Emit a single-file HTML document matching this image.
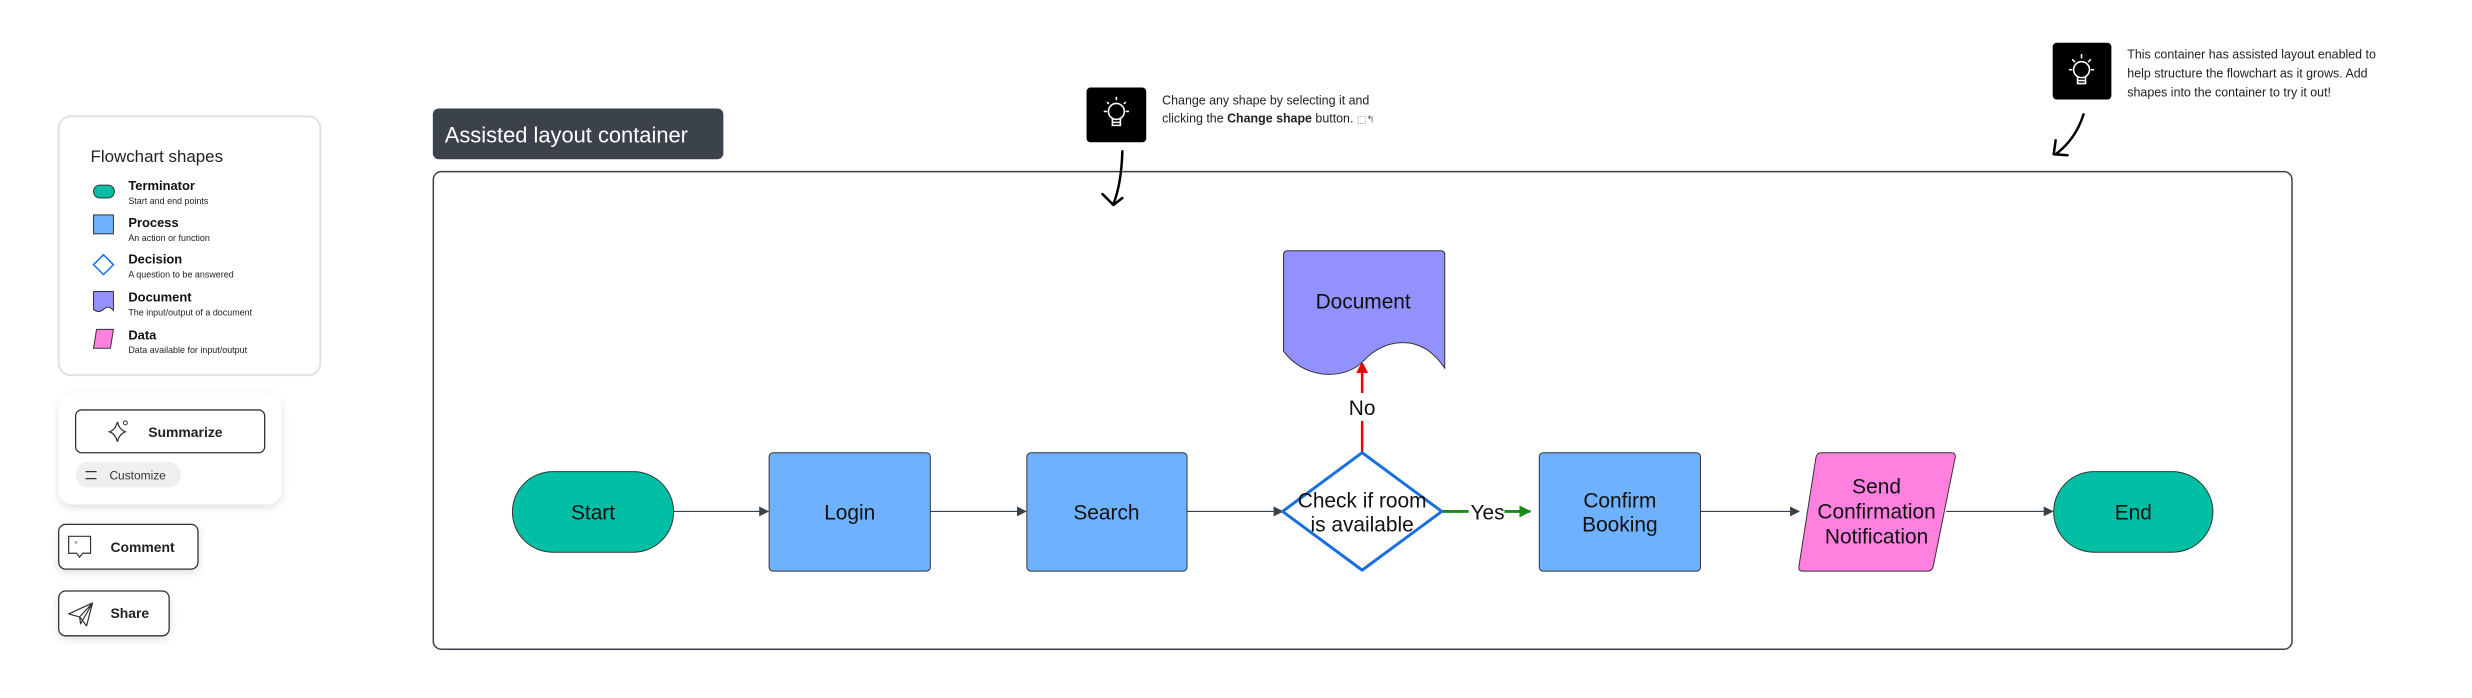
<!DOCTYPE html>
<html><head><meta charset="utf-8"><style>
html,body{margin:0;padding:0;background:#fff;}
body{width:2472px;height:693px;overflow:hidden;position:relative;font-family:"Liberation Sans",sans-serif;}
</style></head><body>
<svg width="2472" height="693" viewBox="0 0 2472 693" xmlns="http://www.w3.org/2000/svg" font-family="Liberation Sans, sans-serif">
<defs>
<filter id="sh" x="-10%" y="-10%" width="120%" height="130%"><feDropShadow dx="0" dy="3" stdDeviation="4" flood-color="#000" flood-opacity="0.12"/></filter>
<marker id="ag" markerWidth="10" markerHeight="10" refX="9" refY="5" orient="auto" markerUnits="userSpaceOnUse"><path d="M0,0 L10,5 L0,10z" fill="#3a414a"/></marker>
<marker id="ar" markerWidth="10" markerHeight="12" refX="9" refY="6" orient="auto" markerUnits="userSpaceOnUse"><path d="M0,0 L12,6 L0,12z" fill="#e00"/></marker>
<marker id="agr" markerWidth="12" markerHeight="12" refX="11" refY="6" orient="auto" markerUnits="userSpaceOnUse"><path d="M0,0 L12,6 L0,12z" fill="#1a8a1a"/></marker>
</defs>
<g transform="scale(0.995)">
<!-- Legend card -->
<rect x="59" y="117" width="263" height="260" rx="12" fill="#fff" stroke="#dfe2e6" stroke-width="2"/>
<text x="91" y="163" font-size="17" fill="#222">Flowchart shapes</text>
<rect x="94" y="186" width="21" height="13" rx="6.5" fill="#00bfa5" stroke="#333" stroke-width="1"/>
<text x="129" y="191" font-size="13" font-weight="bold" fill="#111">Terminator</text>
<text x="129" y="205" font-size="9" fill="#222">Start and end points</text>
<rect x="94" y="216" width="20" height="19" fill="#6db1ff" stroke="#333" stroke-width="1"/>
<text x="129" y="228" font-size="13" font-weight="bold" fill="#111">Process</text>
<text x="129" y="242" font-size="9" fill="#222">An action or function</text>
<path d="M104,256 L114,266 L104,276 L94,266z" fill="#fff" stroke="#1a6fe0" stroke-width="1.5"/>
<text x="129" y="265" font-size="13" font-weight="bold" fill="#111">Decision</text>
<text x="129" y="279" font-size="9" fill="#222">A question to be answered</text>
<path d="M94,293 H114 V312 Q109,306 104,311 Q99,315 94,311z" fill="#9391fd" stroke="#333" stroke-width="1"/>
<text x="129" y="303" font-size="13" font-weight="bold" fill="#111">Document</text>
<text x="129" y="317" font-size="9" fill="#222">The input/output of a document</text>
<path d="M97,331 H114 L111,350 H94z" fill="#ff80de" stroke="#333" stroke-width="1"/>
<text x="129" y="341" font-size="13" font-weight="bold" fill="#111">Data</text>
<text x="129" y="355" font-size="9" fill="#222">Data available for input/output</text>

<!-- Summarize card -->
<rect x="59" y="395" width="224" height="112" rx="14" fill="#fff" filter="url(#sh)"/>
<rect x="76" y="412" width="190" height="43" rx="6" fill="#fff" stroke="#333" stroke-width="1.3"/>
<path d="M118,424 Q120,432 126,434 Q120,436 118,444 Q116,436 110,434 Q116,432 118,424z" fill="none" stroke="#333" stroke-width="1.2"/>
<circle cx="126" cy="425" r="2" fill="none" stroke="#333" stroke-width="1"/>
<text x="149" y="439" font-size="14" font-weight="bold" fill="#222">Summarize</text>
<rect x="76" y="464" width="106" height="26" rx="13" fill="#eeeff1"/>
<path d="M86,474 H97 M86,481 H97" stroke="#333" stroke-width="1.2"/>
<text x="110" y="482" font-size="12" fill="#333">Customize</text>

<!-- Comment -->
<rect x="59" y="527" width="140" height="45" rx="7" fill="#fff" stroke="#333" stroke-width="1.3" filter="url(#sh)"/>
<path d="M69,539 H91 V556 H83 L80,560 L77,556 H69z" fill="none" stroke="#333" stroke-width="1.2"/>
<text x="75" y="551" font-size="9" fill="#333">”</text>
<text x="111" y="555" font-size="14" font-weight="bold" fill="#222">Comment</text>

<!-- Share -->
<rect x="59" y="594" width="111" height="45" rx="7" fill="#fff" stroke="#333" stroke-width="1.3" filter="url(#sh)"/>
<path d="M69,617 L93,606 L87,629 L80,620z M80,620 L93,606 L81,627z" fill="none" stroke="#333" stroke-width="1.2" stroke-linejoin="round"/>
<text x="111" y="621" font-size="14" font-weight="bold" fill="#222">Share</text>

<!-- Title -->
<rect x="435" y="109" width="292" height="51" rx="6" fill="#3c424b"/>
<text x="447" y="143" font-size="22" fill="#fff">Assisted layout container</text>

<!-- Container -->
<rect x="435.5" y="172.5" width="1868" height="480" rx="8" fill="#fff" stroke="#3a414a" stroke-width="1.5"/>

<!-- Tip 1 -->
<rect x="1092" y="88" width="60" height="55" rx="4" fill="#000"/>
<g stroke="#fff" stroke-width="1.6" fill="none" stroke-linecap="round">
<circle cx="1122" cy="112" r="8"/><path d="M1118,119 V126 H1126 V119 M1118,123 H1126"/>
<path d="M1122,98 V100 M1110,112 H1112 M1132,112 H1134 M1113,103 L1114,104 M1131,103 L1130,104"/>
</g>
<text x="1168" y="105" font-size="12.5" fill="#222">Change any shape by selecting it and</text>
<text x="1168" y="123" font-size="12.5" fill="#222">clicking the <tspan font-weight="bold">Change shape</tspan> button. <tspan font-size="10" fill="#666">⬚↰</tspan></text>
<path d="M1128,152 Q1127,185 1119,205 M1108,195 L1119,206 L1128,199" stroke="#000" stroke-width="2.5" fill="none" stroke-linecap="round" stroke-linejoin="round"/>

<!-- Tip 2 -->
<rect x="2063" y="43" width="59" height="57" rx="4" fill="#000"/>
<g stroke="#fff" stroke-width="1.6" fill="none" stroke-linecap="round">
<circle cx="2092" cy="70" r="8"/><path d="M2088,77 V84 H2096 V77 M2088,81 H2096"/>
<path d="M2092,55 V58 M2080,70 H2082 M2102,70 H2104 M2083,60 L2085,62 M2101,60 L2099,62"/>
</g>
<text x="2138" y="59" font-size="12.5" fill="#222">This container has assisted layout enabled to</text>
<text x="2138" y="78" font-size="12.5" fill="#222">help structure the flowchart as it grows. Add</text>
<text x="2138" y="97" font-size="12.5" fill="#222">shapes into the container to try it out!</text>
<path d="M2094,115 Q2086,140 2066,155 M2066,141 L2064,155 L2078,156" stroke="#000" stroke-width="2.5" fill="none" stroke-linecap="round" stroke-linejoin="round"/>

<!-- Connectors -->
<g stroke="#3a414a" stroke-width="1.2" fill="none">
<path d="M677,514 H772" marker-end="url(#ag)"/>
<path d="M935,514 H1031" marker-end="url(#ag)"/>
<path d="M1193,514 H1289" marker-end="url(#ag)"/>
<path d="M1709,514 H1808" marker-end="url(#ag)"/>
<path d="M1956,514 H2063" marker-end="url(#ag)"/>
</g>
<path d="M1450,514 H1538" stroke="#1a8a1a" stroke-width="3" fill="none" marker-end="url(#agr)"/>
<rect x="1476" y="500" width="36" height="26" fill="#fff"/>
<text x="1495" y="522" font-size="21" fill="#111" text-anchor="middle">Yes</text>
<path d="M1369,455 V366" stroke="#e00" stroke-width="2.5" fill="none" marker-end="url(#ar)"/>
<rect x="1352" y="395" width="34" height="28" fill="#fff"/>
<text x="1369" y="417" font-size="21" fill="#111" text-anchor="middle">No</text>

<!-- Nodes -->
<rect x="515" y="474" width="162" height="81" rx="40.5" fill="#00bfa5" stroke="#333" stroke-width="1"/>
<text x="596" y="522" font-size="21" fill="#111" text-anchor="middle">Start</text>
<rect x="773" y="455" width="162" height="119" rx="4" fill="#6db1ff" stroke="#333" stroke-width="1"/>
<text x="854" y="522" font-size="21" fill="#111" text-anchor="middle">Login</text>
<rect x="1032" y="455" width="161" height="119" rx="4" fill="#6db1ff" stroke="#333" stroke-width="1"/>
<text x="1112" y="522" font-size="21" fill="#111" text-anchor="middle">Search</text>
<path d="M1369,455 L1449,514 L1369,573 L1289,514z" fill="#fff" stroke="#1a6fe0" stroke-width="3" stroke-linejoin="round"/>
<text x="1369" y="510" font-size="21" fill="#111" text-anchor="middle">Check if room</text>
<text x="1369" y="534" font-size="21" fill="#111" text-anchor="middle">is available</text>
<path d="M1294,252 H1448 Q1452,252 1452,256 V370 Q1432,340 1402,345 Q1384,348 1370,363 Q1355,378 1330,376 Q1305,373 1290,353 V256 Q1290,252 1294,252z" fill="#9391fd" stroke="#333" stroke-width="1"/>
<text x="1370" y="310" font-size="21" fill="#111" text-anchor="middle">Document</text>
<rect x="1547" y="455" width="162" height="119" rx="4" fill="#6db1ff" stroke="#333" stroke-width="1"/>
<text x="1628" y="510" font-size="21" fill="#111" text-anchor="middle">Confirm</text>
<text x="1628" y="534" font-size="21" fill="#111" text-anchor="middle">Booking</text>
<path d="M1830,455 H1961 Q1966,455 1965,460 L1943,569 Q1942,574 1937,574 H1812 Q1807,574 1808,569 L1825,460 Q1826,455 1830,455z" fill="#ff80de" stroke="#333" stroke-width="1"/>
<text x="1886" y="496" font-size="21" fill="#111" text-anchor="middle">Send</text>
<text x="1886" y="521" font-size="21" fill="#111" text-anchor="middle">Confirmation</text>
<text x="1886" y="546" font-size="21" fill="#111" text-anchor="middle">Notification</text>
<rect x="2064" y="474" width="160" height="81" rx="40.5" fill="#00bfa5" stroke="#333" stroke-width="1"/>
<text x="2144" y="522" font-size="21" fill="#111" text-anchor="middle">End</text>
</g>
</svg>
</body></html>
